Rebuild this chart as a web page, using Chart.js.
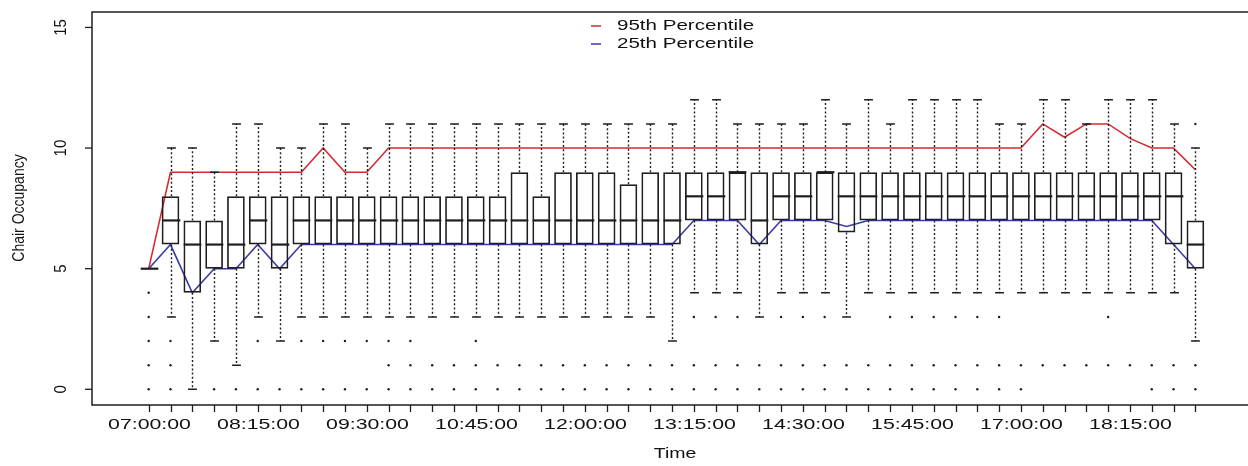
<!DOCTYPE html>
<html>
<head>
<meta charset="utf-8">
<script src="https://cdn.jsdelivr.net/npm/chart.js@4.4.1/dist/chart.umd.min.js"></script>
<style>
  html, body { margin: 0; background: #fff; }
  #wrap { width: 1248px; height: 466px; position: relative; }
</style>
</head>
<body>
<div id="wrap"><canvas id="occupancy"></canvas></div>
<script>
// 15-minute slots of the working day
const slots = ['07:00:00','07:15:00','07:30:00','07:45:00','08:00:00','08:15:00','08:30:00','08:45:00',
  '09:00:00','09:15:00','09:30:00','09:45:00','10:00:00','10:15:00','10:30:00','10:45:00',
  '11:00:00','11:15:00','11:30:00','11:45:00','12:00:00','12:15:00','12:30:00','12:45:00',
  '13:00:00','13:15:00','13:30:00','13:45:00','14:00:00','14:15:00','14:30:00','14:45:00',
  '15:00:00','15:15:00','15:30:00','15:45:00','16:00:00','16:15:00','16:30:00','16:45:00',
  '17:00:00','17:15:00','17:30:00','17:45:00','18:00:00','18:15:00','18:30:00','18:45:00','19:00:00'];
const tickLabels = ['07:00:00','08:15:00','09:30:00','10:45:00','12:00:00','13:15:00','14:30:00','15:45:00','17:00:00','18:15:00'];
const yTicks = [0, 5, 10, 15];

// box plot statistics per slot
const q1 = [5,6,4,5,5,6,5,6,6,6, 6,6,6,6,6,6,6,6,6,6, 6,6,6,6,6,7,7,7,6,7, 7,7,6.5,7,7,7,7,7,7,7, 7,7,7,7,7,7,7,6,5];
const med = [5,7,6,6,6,7,6,7,7,7, 7,7,7,7,7,7,7,7,7,7, 7,7,7,7,7,8,8,9,7,8, 8,9,8,8,8,8,8,8,8,8, 8,8,8,8,8,8,8,8,6];
const q3 = [5,8,7,7,8,8,8,8,8,8, 8,8,8,8,8,8,8,9,8,9, 9,9,8.5,9,9,9,9,9,9,9, 9,9,9,9,9,9,9,9,9,9, 9,9,9,9,9,9,9,9,7];
const whiskLo = [5,3,0,2,1,3,2,3,3,3, 3,3,3,3,3,3,3,3,3,3, 3,3,3,3,2,4,4,4,3,4, 4,4,3,4,4,4,4,4,4,4, 4,4,4,4,4,4,4,4,2];
const whiskHi = [5,10,10,9,11,11,10,10,11,11, 10,11,11,11,11,11,11,11,11,11, 11,11,11,11,11,12,12,11,11,11, 11,12,11,12,11,12,12,12,12,11, 11,12,12,11,12,12,12,11,10];
const outliers = [
  [4,3,2,1,0],[2,1,0],[],[0],[0],[2,0],[0],[2,0],[2,0],[2,0],
  [2,0],[2,1,0],[2,1,0],[1,0],[1,0],[2,1,0],[1,0],[1,0],[1,0],[1,0],
  [1,0],[1,0],[1,0],[1,0],[1,0],[3,1,0],[3,1,0],[3,1,0],[1,0],[3,1,0],
  [3,1,0],[3,1,0],[1,0],[1,0],[3,1,0],[3,1,0],[3,1,0],[3,1,0],[3,1,0],[3,1,0],
  [1,0],[1],[1],[1],[3,1],[1],[1,0],[1,0],[11,1,0]
];

// percentile lines
const p95 = [5,9,9,9,9,9,9,9,10,9, 9,10,10,10,10,10,10,10,10,10, 10,10,10,10,10,10,10,10,10,10,
  10,10,10,10,10,10,10,10,10,10, 10,11,10.45,11,11,10.4,10,10,9.1];
const p25 = [5,6,4,5,5,6,5,6,6,6, 6,6,6,6,6,6,6,6,6,6, 6,6,6,6,6,7,7,7,6,7, 7,7,6.75,7,7,7,7,7,7,7, 7,7,7,7,7,7,7,6,5];

const INK = '#1e1e1e';
const RED = '#d42a30';
const BLUE = '#3b3ba6';
const FONT = '"Liberation Sans", Arial, Helvetica, sans-serif';

const outlierPoints = [];
outliers.forEach((vals, i) => vals.forEach(v => outlierPoints.push({ x: i, y: v })));

function wideText(ctx, text, x, y, size, sx, align) {
  ctx.save();
  ctx.translate(x, y);
  ctx.scale(sx, 1);
  ctx.font = size + 'px ' + FONT;
  ctx.fillStyle = '#111';
  ctx.textAlign = align || 'center';
  ctx.textBaseline = 'middle';
  ctx.fillText(text, 0, 0);
  ctx.restore();
}

function uprightText(ctx, text, x, y, size, sy) {
  ctx.save();
  ctx.translate(x, y);
  ctx.scale(sy, 1);
  ctx.rotate(-Math.PI / 2);
  ctx.font = size + 'px ' + FONT;
  ctx.fillStyle = '#111';
  ctx.textAlign = 'center';
  ctx.textBaseline = 'middle';
  ctx.fillText(text, 0, 0);
  ctx.restore();
}

// whiskers, staples and medians on top of the boxes
const boxParts = {
  id: 'boxParts',
  afterDatasetsDraw(chart) {
    const ctx = chart.ctx;
    const xs = chart.scales.x, ys = chart.scales.y;
    const bars = chart.getDatasetMeta(2).data;
    ctx.save();
    ctx.strokeStyle = INK;
    q1.forEach((lo, i) => {
      const x = Math.round(xs.getPixelForValue(i)) + 0.5;
      const w = bars[i].width;
      // dashed whiskers
      ctx.lineWidth = 1.4;
      ctx.setLineDash([2, 2.2]);
      ctx.beginPath();
      if (whiskHi[i] > q3[i]) {
        ctx.moveTo(x, ys.getPixelForValue(q3[i]));
        ctx.lineTo(x, ys.getPixelForValue(whiskHi[i]));
      }
      if (whiskLo[i] < lo) {
        ctx.moveTo(x, ys.getPixelForValue(lo));
        ctx.lineTo(x, ys.getPixelForValue(whiskLo[i]));
      }
      ctx.stroke();
      ctx.setLineDash([]);
      // staples
      ctx.lineWidth = 1.5;
      ctx.beginPath();
      [whiskHi[i], whiskLo[i]].forEach(v => {
        if (v === lo && v === q3[i]) return;
        const y = ys.getPixelForValue(v);
        ctx.moveTo(x - w / 4, y);
        ctx.lineTo(x + w / 4, y);
      });
      ctx.stroke();
      // median
      ctx.lineWidth = 2.2;
      ctx.beginPath();
      const ym = ys.getPixelForValue(med[i]);
      ctx.moveTo(x - w / 2, ym);
      ctx.lineTo(x + w / 2, ym);
      ctx.stroke();
    });
    ctx.restore();
  },
  afterDraw(chart) {
    const ctx = chart.ctx;
    const { left, top, bottom } = chart.chartArea;
    const xs = chart.scales.x, ys = chart.scales.y;
    const right = chart.width;
    ctx.save();
    ctx.strokeStyle = INK;
    ctx.lineWidth = 1.5;
    // frame (open on the right edge)
    ctx.beginPath();
    ctx.moveTo(right, top);
    ctx.lineTo(left, top);
    ctx.lineTo(left, bottom);
    ctx.lineTo(right, bottom);
    ctx.stroke();

    // y axis
    ctx.lineWidth = 1.3;
    yTicks.forEach(v => {
      const y = ys.getPixelForValue(v);
      ctx.beginPath();
      ctx.moveTo(left - 7, y);
      ctx.lineTo(left, y);
      ctx.stroke();
      uprightText(ctx, String(v), left - 30, y, 15, 1.05);
    });
    uprightText(ctx, 'Chair Occupancy', 20, 208, 14, 1.15);

    // x axis: a tick per slot, label every fifth
    slots.forEach((s, i) => {
      const x = Math.round(xs.getPixelForValue(i)) + 0.5;
      ctx.beginPath();
      ctx.moveTo(x, bottom);
      ctx.lineTo(x, bottom + 7);
      ctx.stroke();
      if (tickLabels.includes(s)) wideText(ctx, s, x, 425, 15, 1.42);
    });
    wideText(ctx, 'Time', 675, 454, 15, 1.3);

    // legend
    [[RED, '95th Percentile', 26], [BLUE, '25th Percentile', 44]].forEach(([c, t, y]) => {
      ctx.strokeStyle = c;
      ctx.lineWidth = 1.5;
      ctx.beginPath();
      ctx.moveTo(591, y);
      ctx.lineTo(601, y);
      ctx.stroke();
      wideText(ctx, t, 617, y, 15, 1.37, 'left');
    });
    ctx.restore();
  }
};

new Chart(document.getElementById('occupancy'), {
  data: {
    datasets: [
      {
        type: 'line', label: '95th Percentile',
        data: p95.map((v, i) => ({ x: i, y: v })),
        borderColor: RED, borderWidth: 1.6, pointRadius: 0, tension: 0, order: 2
      },
      {
        type: 'line', label: '25th Percentile',
        data: p25.map((v, i) => ({ x: i, y: v })),
        borderColor: BLUE, borderWidth: 1.6, pointRadius: 0, tension: 0, order: 2
      },
      {
        type: 'bar', label: 'Occupancy',
        data: q1.map((v, i) => ({ x: i, y: [v, q3[i]] })),
        backgroundColor: 'rgba(0,0,0,0)', borderColor: INK, borderWidth: 1.7,
        borderSkipped: false, barPercentage: 0.9, categoryPercentage: 0.9, order: 1
      },
      {
        type: 'scatter', label: 'Outliers',
        data: outlierPoints,
        pointRadius: 1.2, pointBackgroundColor: INK, pointBorderWidth: 0, order: 3
      }
    ]
  },
  options: {
    responsive: true,
    maintainAspectRatio: false,
    animation: false,
    layout: { padding: { left: 92, top: 12, right: 0, bottom: 61 } },
    plugins: { legend: { display: false }, tooltip: { enabled: false } },
    scales: {
      x: { type: 'linear', min: -2.6, max: 50.23, offset: false, display: false },
      y: { type: 'linear', min: -0.65, max: 15.64, display: false }
    }
  },
  plugins: [boxParts]
});
</script>
</body>
</html>
